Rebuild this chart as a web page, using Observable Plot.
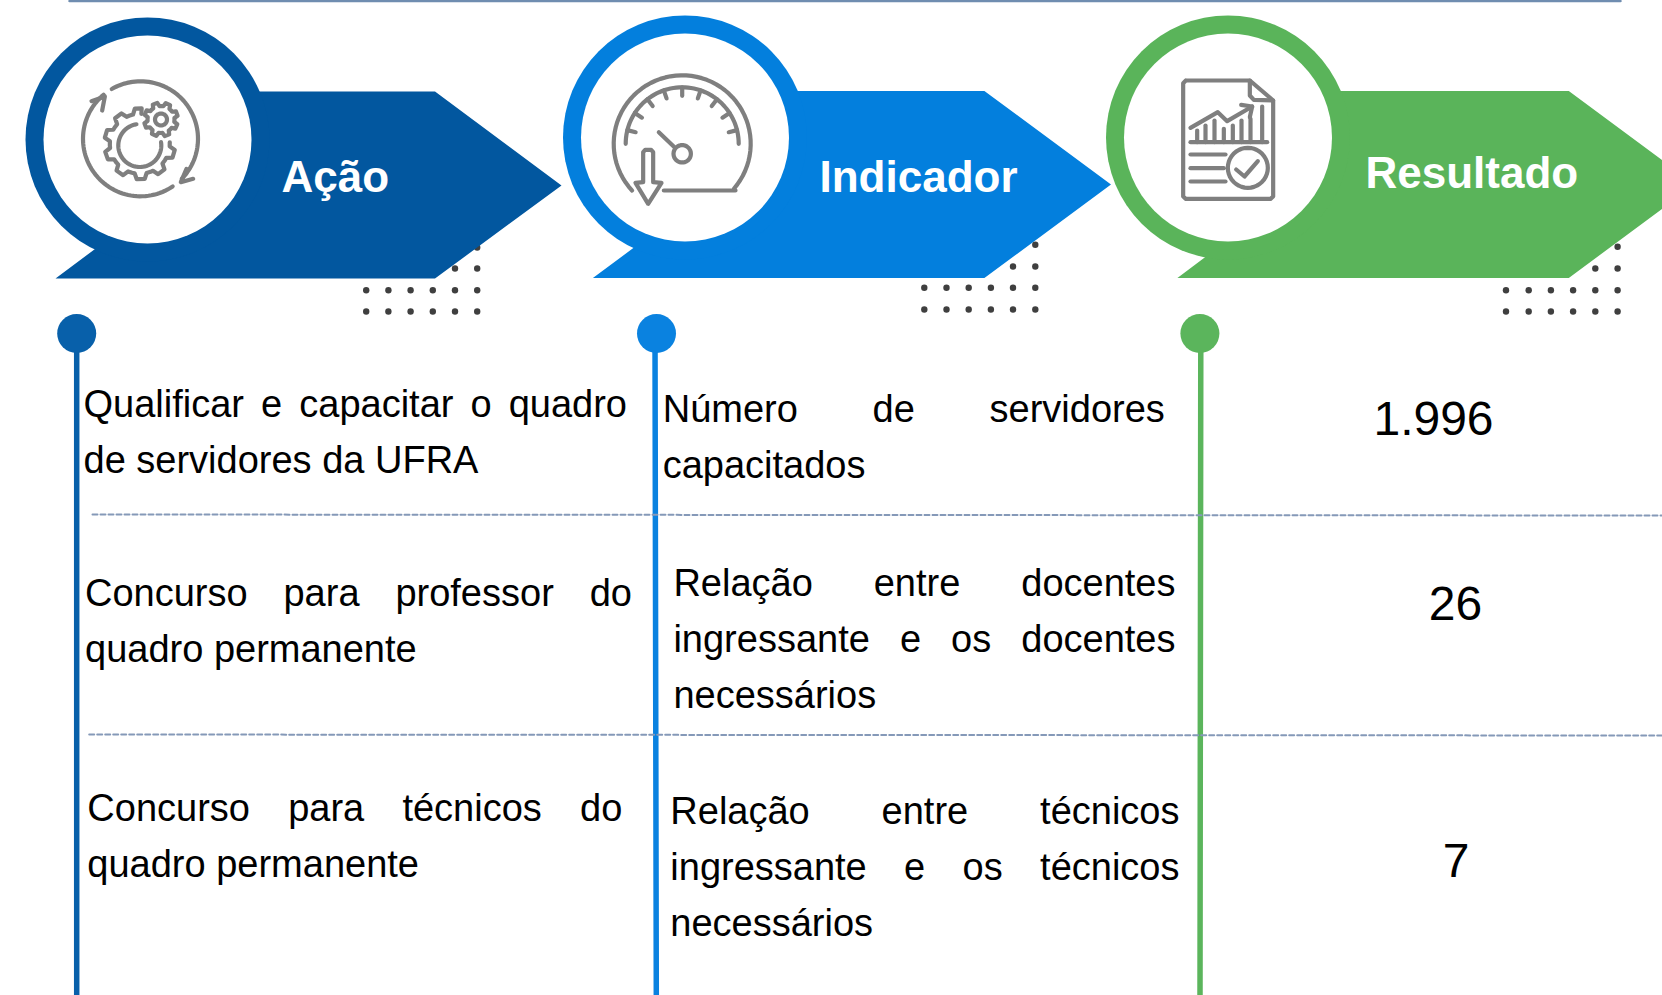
<!DOCTYPE html>
<html lang="pt">
<head>
<meta charset="utf-8">
<style>html,body{margin:0;padding:0;background:#fff;overflow:hidden}svg{display:block}</style>
<script src="https://cdn.jsdelivr.net/npm/d3@7"></script>
<script src="https://cdn.jsdelivr.net/npm/@observablehq/plot@0.6"></script>
</head>
<body>
<div id="chart"></div>
<script>
// ---- content ----
const headers = ["Ação", "Indicador", "Resultado"];
const actions = [
  ["Qualificar e capacitar o quadro", "de servidores da UFRA"],
  ["Concurso para professor do", "quadro permanente"],
  ["Concurso para técnicos do", "quadro permanente"]
];
const indicators = [
  ["Número de servidores", "capacitados"],
  ["Relação entre docentes", "ingressante e os docentes", "necessários"],
  ["Relação entre técnicos", "ingressante e os técnicos", "necessários"]
];
const results = ["1.996", "26", "7"];

// ---- layout (page pixels, separate from content) ----
const FONT = "Liberation Sans";
const colors = ["#02579f", "#037fdd", "#5ab45a"];
const lineColors = ["#0860aa", "#0a82e0", "#5bb55c"];
const GRAY = "#7f7f7f";
const banners = [
  {cx:147, cy:139, poly:[[257.5,91],[434.5,91],[561,185],[434.5,278],[55,278],[95.2,248]], tx:281, ty:191.5,
   dotX:[365.7,387.9,410.1,432.3,454.5,476.7], dotY:[247,268,289.7,311], node:[76.2,333], line:[76.2,76.2]},
  {cx:684.5, cy:137, poly:[[796.3,90.5],[983.9,90.5],[1110.5,184],[983.9,277.5],[592.4,277.5],[634.5,246.3]], tx:819, ty:191.5,
   dotX:[923.8,946,968.2,990.4,1012.5,1034.8], dotY:[244.3,266,287.3,309], node:[656,333], line:[654.5,655.8]},
  {cx:1227.5, cy:137, poly:[[1338.9,90.5],[1568.3,90.5],[1694.5,184],[1568.3,277.5],[1176.9,277.5],[1205.5,256]], tx:1365, ty:187.5,
   dotX:[1505.5,1528.2,1550.4,1572.6,1594.8,1617.1], dotY:[246.3,268,289.7,311], node:[1199.4,333], line:[1200.3,1199.5]}
];
const actionBlocks = [{l:83,r:626.5,y:416.7},{l:84.5,r:631.4,y:605.7},{l:86.8,r:621.8,y:820.7}];
const indicatorBlocks = [{l:662.2,r:1164.3,y:421.7},{l:672.9,r:1175,y:595.3},{l:669.8,r:1179,y:823.3}];
const resultPos = [{x:1433,y:434},{x:1455,y:619},{x:1455.5,y:876.7}];
const LINE_GAP = 56, TEXT_SIZE = 38;
const dashes = [[[92,514],[1662,515]],[[88.7,734],[1662,735]]];

// ---- justified text: word spacing from measured widths ----
const ctx = document.createElement("canvas").getContext("2d");
ctx.font = `${TEXT_SIZE}px "${FONT}"`;
const wordSpacing = new Map();
function textRows(blocks, lines) {
  const rows = [];
  blocks.forEach((b, i) => lines[i].forEach((t, j) => {
    rows.push({x:b.l, y:b.y + j*LINE_GAP, t});
    const gaps = t.split(" ").length - 1;
    if (j < lines[i].length - 1 && gaps > 0) wordSpacing.set(t, (b.r - b.l - ctx.measureText(t).width)/gaps);
  }));
  return rows;
}
const bodyRows = [...textRows(actionBlocks, actions), ...textRows(indicatorBlocks, indicators)];

// ---- icon outlines ----
const icon = [];
let sid = 0;
const add = pts => { sid++; pts.forEach(([x,y]) => icon.push({x,y,id:sid})); };
const arc = (cx,cy,r,a0,a1,n=60) => d3.range(n+1).map(i => {
  const a = (a0+(a1-a0)*i/n)*Math.PI/180; return [cx+r*Math.cos(a), cy+r*Math.sin(a)];
});
const gear = (cx,cy,rIn,rOut,teeth,a0,a1) => {
  const step = 360/teeth, pts = [];
  for (let a=a0; a<a1-1e-6; a+=step) {
    [[0,rIn],[.22,rIn],[.36,rOut],[.72,rOut],[.86,rIn],[1,rIn]].forEach(([f,r]) => {
      const t = Math.min(a+f*step,a1)*Math.PI/180; pts.push([cx+r*Math.cos(t), cy+r*Math.sin(t)]);
    });
  }
  return pts;
};
const at = (ox,oy) => pts => pts.map(([x,y]) => [ox+x/3, oy+y/3]);

// gears and cycle arrows
const a1 = at(71,70);
add(arc(140,138.3,57.5,-120,44));
add(arc(140,138.3,57.5,56,230));
add(a1([[60,92],[100,78],[92,120]]));
add(a1([[345,295],[328,335],[365,325]]));
add(gear(139.3,143.3,30,35.5,10,-3,273));
add(arc(139.3,145,21.5,-99,-369));
add(gear(160.5,119,13.5,17,8,0,360));
add(arc(160.5,119,6,0,360,30));

// gauge
const a2 = at(600,60), gx = 681.7, gy = 143.3;
add([...a2([[190,390],[405,390]]), ...arc(gx,gy,68.5,41,-223)]);
add(arc(gx,gy,56.5,180,360));
d3.range(-4,5).forEach(k => {
  const a = (k*19-90)*Math.PI/180;
  add([[gx+56.5*Math.cos(a),gy+56.5*Math.sin(a)],[gx+48*Math.cos(a),gy+48*Math.sin(a)]]);
});
add(a2([[175,215],[222,260]]));
add(arc(gx,153.3,8.7,0,360,30));
add(a2([[128,365],[128,275],[134,268],[152,268],[158,275],[158,365],[183,367],[143,430],[105,367],[128,365]]));

// report
const a3 = at(1170,70);
add(a3([[46,30],[238,30],[308,90],[308,378],[300,385],[46,385],[38,378],[38,38],[46,30]]));
add(a3([[238,30],[238,75],[250,88],[308,90]]));
add(a3([[60,172],[142,125],[170,152],[245,108]]));
add(a3([[212,103],[245,108],[238,140]]));
add(a3([[60,215],[290,215]]));
[[80,180],[105,165],[132,150],[160,175],[187,165],[213,150],[240,145],[275,108]].forEach(([x,t]) => add(a3([[x,t],[x,215]])));
[[252,165],[293,160],[333,165]].forEach(([y,e]) => add(a3([[60,y],[e,y]])));
add(arc(1170+232/3,70+292/3,20,0,360,40));
add(a3([[197,297],[222,318],[262,272]]));

// ---- marks ----
const dotRows = banners.flatMap(b => b.dotY.flatMap(y => b.dotX.map(x => ({x,y}))));
const marks = [
  Plot.line([[69,0.6],[1620,0.6]], {stroke:"#6f8db0", strokeWidth:2.5, strokeLinecap:"round"}),
  Plot.dot(dotRows, {x:"x", y:"y", r:3.2, fill:"#3f3f3f"})
];
banners.forEach((b,i) => {
  marks.push(
    Plot.line(b.poly, {fill:colors[i], stroke:"none"}),
    Plot.dot([[b.cx,b.cy]], {r:122, fill:colors[i]}),
    Plot.dot([[b.cx,b.cy]], {r:104, fill:"#fff"}),
    Plot.line([[b.line[0],333],[b.line[1],995]], {stroke:lineColors[i], strokeWidth:5.5}),
    Plot.dot([b.node], {r:19.5, fill:lineColors[i]}),
    Plot.text([headers[i]], {x:b.tx, y:b.ty, text:d=>d, textAnchor:"start", lineAnchor:"bottom",
      fontFamily:FONT, fontWeight:"bold", fontSize:44, fill:"#fff"})
  );
});
dashes.forEach(d => marks.push(Plot.line(d, {stroke:"#8599b8", strokeWidth:2, strokeDasharray:"5 3"})));
marks.push(
  Plot.line(icon, {x:"x", y:"y", z:"id", stroke:GRAY, strokeWidth:4.2, strokeLinecap:"round", strokeLinejoin:"round"}),
  Plot.text(bodyRows, {x:"x", y:"y", text:"t", textAnchor:"start", lineAnchor:"bottom",
    fontFamily:FONT, fontSize:TEXT_SIZE, fill:"#000"}),
  Plot.text(results.map((t,i) => ({t,...resultPos[i]})), {x:"x", y:"y", text:"t", textAnchor:"middle", lineAnchor:"bottom",
    fontFamily:FONT, fontSize:48, fill:"#000"})
);

const chart = Plot.plot({
  width:1662, height:995, margin:0,
  x:{type:"identity", axis:null}, y:{type:"identity", axis:null},
  style:{background:"#fff", overflow:"hidden"},
  marks
});
d3.select(chart).selectAll("text").each(function() {
  const s = wordSpacing.get(this.textContent);
  if (s != null) this.style.wordSpacing = s + "px";
});
document.getElementById("chart").appendChild(chart);
</script>
</body>
</html>
